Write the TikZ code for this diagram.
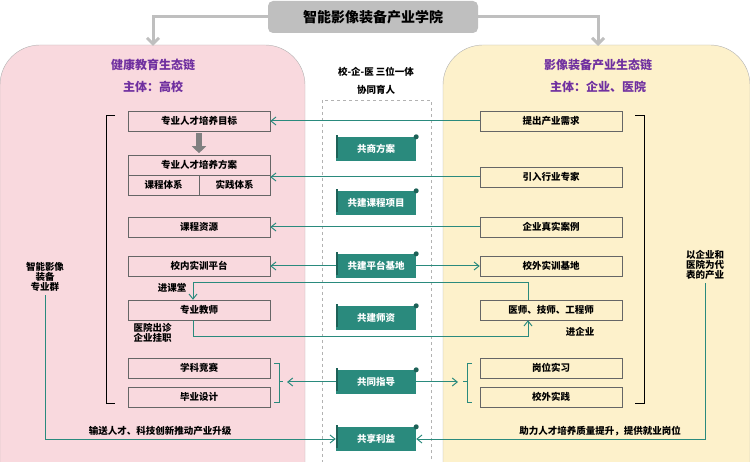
\documentclass[tikz,border=0pt]{standalone}
\usepackage{fontspec}
\setmainfont{Noto Sans CJK SC}
\usetikzlibrary{calc}
\usetikzlibrary{arrows.meta}
\usetikzlibrary{positioning}
\definecolor{teal1}{HTML}{2A8A7D}
\definecolor{pinkbg}{HTML}{F9D9DE}
\definecolor{yellbg}{HTML}{FDF1CB}
\definecolor{purp}{HTML}{7030A0}
\tikzset{
  lbox/.style={draw=gray!80!black,fill=pinkbg,minimum width=142pt,minimum height=20pt,inner sep=0pt,font=\fontsize{9.5}{10}\selectfont\bfseries},
  rbox/.style={lbox,fill=yellbg},
  banner/.style={fill=teal1,text=white,minimum width=80pt,minimum height=24pt,inner sep=0pt,font=\fontsize{9.5}{10}\selectfont\bfseries},
  tarrow/.style={teal1,line width=1pt,-{Straight Barb[length=5pt,width=8pt]}},
  tline/.style={teal1,line width=1pt}
}
\newcommand{\scroll}[3]{%
  \path #2 node(#1) [banner] {#3};
  \fill[teal1!70!black] (#1.north east) circle (2.5pt);
  \fill[teal1!70!black] ($(#1.north west)+(0,-2)$) rectangle ($(#1.south west)+(2,-3)$);
}
\begin{document}
\begin{tikzpicture}[x=1pt,y=-1pt,font=\fontsize{9.5}{10}\selectfont\bfseries]
\useasboundingbox (0,0) rectangle (750,462);
% panels
\filldraw[pinkbg,draw=gray!60,rounded corners=40pt] (0,45) rectangle (305,520);
\filldraw[yellbg,draw=gray!60,rounded corners=40pt] (443,45) rectangle (750,520);
\path (373,17) node(title) [fill=gray!50,rounded corners=5pt,minimum width=210pt,minimum height=32pt,font=\fontsize{14}{15}\selectfont\bfseries] {智能影像装备产业学院};
\draw[gray!50,line width=3pt,-{Straight Barb[length=6pt,width=12pt]}] (title.west) -| (153,46);
\draw[gray!50,line width=3pt,-{Straight Barb[length=6pt,width=12pt]}] (title.east) -| (598,46);
\path (153,65) node(ltitle) [text=purp,font=\fontsize{12}{13}\selectfont\bfseries] {健康教育生态链};
\path (153,87) node(lsub) [text=purp,font=\fontsize{12}{13}\selectfont\bfseries] {主体：高校};
\path (598,65) node(rtitle) [text=purp,font=\fontsize{12}{13}\selectfont\bfseries] {影像装备产业生态链};
\path (598,87) node(rsub) [text=purp,font=\fontsize{12}{13}\selectfont\bfseries] {主体：企业、医院};
\path (376,72) node(mid1) {校-企-医 三位一体};
\path (376,90) node(mid2) {协同育人};
\draw[gray!60,dashed] (322,100) rectangle (431,462);
% left boxes
\path (199,121) node(goal) [lbox] {专业人才培养目标};
\path (199,165) node(plan) [lbox] {专业人才培养方案};
\path (163.5,185) node(kc) [lbox,minimum width=71pt] {课程体系};
\path (234.5,185) node(sj) [lbox,minimum width=71pt] {实践体系};
\path (199,227) node(res) [lbox] {课程资源};
\path (199,266) node(inplat) [lbox] {校内实训平台};
\path (199,310) node(teacher) [lbox] {专业教师};
\path (199,368) node(comp) [lbox] {学科竞赛};
\path (199,397) node(grad) [lbox] {毕业设计};
\draw[gray,line width=6pt,-{Triangle[length=7pt,width=14pt]}] (goal.south) ++(0,2) -- ++(0,20);
% right boxes
\path (551,121) node(need) [rbox] {提出产业需求};
\path (551,177) node(expert) [rbox] {引入行业专家};
\path (551,227) node(case) [rbox] {企业真实案例};
\path (551,266) node(outbase) [rbox] {校外实训基地};
\path (551,310) node(doctor) [rbox] {医师、技师、工程师};
\path (551,368) node(intern) [rbox] {岗位实习};
\path (551,397) node(outprac) [rbox] {校外实践};
% banners
\scroll{s1}{(376,149)}{共商方案}
\scroll{s2}{(376,203)}{共建课程项目}
\scroll{s3}{(376,266)}{共建平台基地}
\scroll{s4}{(376,318)}{共建师资}
\scroll{s5}{(376,382)}{共同指导}
\scroll{s6}{(376,439)}{共享利益}
% connectors
\draw[tarrow] (need.west) -- (goal.east);
\draw[tarrow] (expert.west) -- (expert.west -| sj.east);
\draw[tarrow] (case.west) -- (res.east);
\draw[tarrow] (s3.west) -- (inplat.east);
\draw[tarrow] (s3.east) -- (outbase.west);
\draw[tarrow] (doctor.north -| 528,0) |- (193,283) -- (teacher.north -| 193,0);
\draw[tarrow] (teacher.south -| 193,0) |- (528,337) -- (doctor.south -| 528,0);
\path (172,288) node(jkt) {进课堂};
\path (580,332) node(jqy) {进企业};
\path (130,333) node(cz) [align=left,anchor=west] {医院出诊\\企业挂职};
\draw[tline] (274,364) -- (279,364) -- (279,402) -- (274,402);
\draw[tline] (279,382) -- (283,382);
\draw[tarrow] (s5.west) -- (287,382);
\draw[tline] (472,364) -- (467,364) -- (467,402) -- (472,402);
\draw[tline] (467,382) -- (463,382);
\draw[tarrow] (s5.east) -- (458,382);
% brackets
\draw[thick] (115,115) -- (106,115) -- (106,403) -- (115,403);
\draw[thick] (635,115) -- (644,115) -- (644,403) -- (635,403);
\path (45,277) node(lgrp) [align=center] {智能影像\\装备\\专业群};
\path (705,265) node(rgrp) [align=center] {以企业和\\医院为代\\表的产业};
\draw[tarrow] (lgrp.south) |- (s6.west);
\draw[tarrow] (rgrp.south) |- (s6.east);
\path (160,431) node(lout) {输送人才、科技创新推动产业升级};
\path (600,431) node(rout) {助力人才培养质量提升，提供就业岗位};
\end{tikzpicture}
\end{document}
